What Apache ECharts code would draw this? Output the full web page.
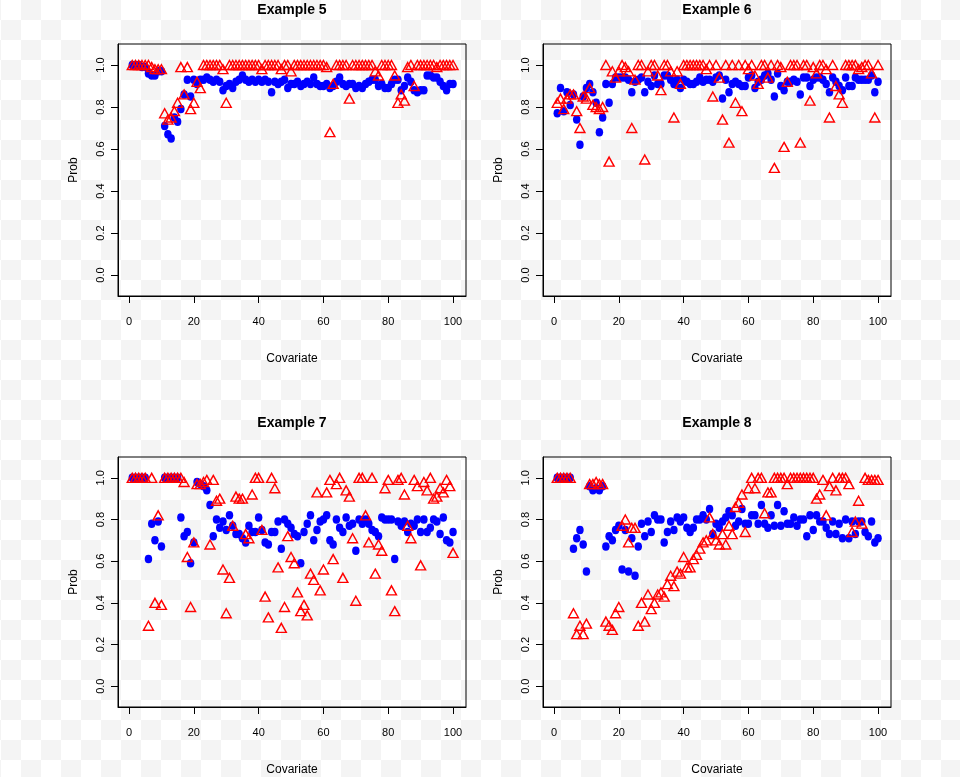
<!DOCTYPE html>
<html><head><meta charset="utf-8">
<script src="https://cdn.jsdelivr.net/npm/echarts@6/dist/echarts.min.js"></script>
<style>
html,body{margin:0;padding:0;width:960px;height:777px;overflow:hidden;}
body{background-color:#fff;background-image:conic-gradient(#f4f4f4 25%, #fff 0 50%, #f4f4f4 0 75%, #fff 0);background-size:40px 40px;background-position:1px 0;}
#c{width:960px;height:777px;}
</style></head><body><div id="c"></div>
<script>
const covariate = [1,2,3,4,5,6,7,8,9,10,11,12,13,14,15,16,17,18,19,20,21,22,23,24,25,26,27,28,29,30,31,32,33,34,35,36,37,38,39,40,41,42,43,44,45,46,47,48,49,50,51,52,53,54,55,56,57,58,59,60,61,62,63,64,65,66,67,68,69,70,71,72,73,74,75,76,77,78,79,80,81,82,83,84,85,86,87,88,89,90,91,92,93,94,95,96,97,98,99,100];
const xTicks = [0,20,40,60,80,100];
const yTicks = [0,0.2,0.4,0.6,0.8,1.0];
const titles = ['Example 5','Example 6','Example 7','Example 8'];

const blue5 = [1.00,1.00,1.00,0.99,0.99,0.96,0.95,0.95,0.97,0.97,
0.71,0.67,0.65,0.75,0.73,0.79,0.86,0.93,0.85,0.93,
0.91,0.93,0.93,0.94,0.93,0.92,0.93,0.92,0.88,0.90,
0.91,0.89,0.92,0.93,0.95,0.93,0.92,0.93,0.92,0.93,
0.92,0.93,0.92,0.87,0.92,0.91,0.92,0.93,0.89,0.91,
0.91,0.92,0.90,0.91,0.92,0.91,0.94,0.91,0.90,0.90,
0.91,0.89,0.90,0.92,0.94,0.91,0.90,0.91,0.91,0.89,
0.90,0.89,0.91,0.92,0.93,0.93,0.90,0.91,0.89,0.89,
0.91,0.93,0.93,0.88,0.90,0.94,0.92,0.88,0.87,0.88,
0.88,0.95,0.95,0.94,0.94,0.92,0.90,0.88,0.91,0.91];
const red5 = [1.00,1.00,1.00,1.00,1.00,1.00,0.99,0.98,0.98,0.98,
0.77,0.74,0.75,0.78,0.82,0.99,0.86,0.99,0.79,0.82,
0.92,0.89,1.00,1.00,1.00,1.00,1.00,1.00,0.98,0.82,
1.00,1.00,1.00,1.00,1.00,1.00,1.00,1.00,1.00,1.00,
0.98,1.00,1.00,1.00,1.00,1.00,0.98,1.00,1.00,0.97,
1.00,1.00,1.00,1.00,1.00,1.00,1.00,1.00,1.00,1.00,
0.99,0.68,0.91,1.00,1.00,1.00,1.00,0.84,1.00,1.00,
1.00,1.00,1.00,1.00,1.00,0.97,0.95,1.00,1.00,1.00,
1.00,0.95,0.82,0.86,0.83,0.99,1.00,0.90,1.00,1.00,
1.00,1.00,1.00,1.00,0.99,1.00,1.00,1.00,1.00,1.00];

const blue6 = [0.77,0.89,0.78,0.87,0.81,0.86,0.74,0.62,0.85,0.89,
0.91,0.87,0.82,0.68,0.75,0.91,0.82,0.91,0.94,0.94,
0.94,0.94,0.93,0.87,0.92,0.93,0.94,0.87,0.92,0.90,
0.95,0.91,0.91,0.95,0.95,0.93,0.91,0.93,0.89,0.93,
0.92,0.91,0.91,0.92,0.94,0.92,0.93,0.93,0.92,0.94,
0.95,0.84,0.93,0.87,0.91,0.92,0.91,0.90,0.90,0.94,
0.95,0.89,0.92,0.93,0.95,0.96,0.93,0.85,0.96,0.90,
0.88,0.92,0.92,0.93,0.92,0.86,0.94,0.94,0.90,0.93,
0.94,0.94,0.93,0.91,0.87,0.94,0.92,0.90,0.88,0.94,
0.90,0.90,0.94,0.93,0.93,0.93,0.93,0.95,0.87,0.92];
const red6 = [0.82,0.84,0.79,0.84,0.86,0.86,0.78,0.70,0.85,0.84,
0.89,0.81,0.80,0.79,0.80,1.00,0.54,0.97,0.94,0.97,
1.00,0.99,0.97,0.70,0.93,1.00,1.00,0.55,0.97,1.00,
1.00,0.95,0.88,1.00,1.00,0.97,0.75,0.97,0.91,1.00,
1.00,1.00,1.00,1.00,1.00,1.00,0.98,1.00,0.85,1.00,
0.94,0.74,1.00,0.63,1.00,0.82,1.00,0.78,1.00,0.98,
1.00,0.95,0.91,1.00,1.00,0.94,1.00,0.51,1.00,0.99,
0.61,0.92,1.00,1.00,1.00,0.63,1.00,1.00,0.83,0.99,
0.96,1.00,1.00,0.98,0.75,1.00,0.90,0.86,0.82,1.00,
1.00,1.00,1.00,0.98,0.99,1.00,1.00,0.96,0.75,1.00];

const blue7 = [1.00,1.00,1.00,1.00,1.00,0.61,0.78,0.70,0.79,0.67,
1.00,1.00,1.00,1.00,1.00,0.81,0.72,0.74,0.59,0.69,
0.98,0.97,0.96,0.94,0.87,0.72,0.80,0.76,0.79,0.75,
0.82,0.77,0.73,0.73,0.71,0.69,0.77,0.74,0.74,0.81,
0.75,0.69,0.68,0.74,0.74,0.79,0.66,0.80,0.78,0.76,
0.73,0.72,0.59,0.74,0.78,0.82,0.70,0.75,0.79,0.80,
0.82,0.70,0.68,0.80,0.76,0.74,0.81,0.77,0.78,0.65,
0.80,0.78,0.80,0.78,0.75,0.74,0.72,0.81,0.80,0.80,
0.80,0.61,0.79,0.77,0.79,0.74,0.78,0.77,0.80,0.74,
0.80,0.74,0.76,0.80,0.79,0.73,0.81,0.70,0.69,0.74];
const red7 = [1.00,1.00,1.00,1.00,1.00,0.29,1.00,0.40,0.82,0.39,
1.00,1.00,1.00,1.00,1.00,1.00,0.98,0.62,0.38,0.69,
0.97,0.97,0.98,0.99,0.68,0.99,0.89,0.90,0.56,0.35,
0.52,0.77,0.91,0.90,0.90,0.73,0.71,0.92,1.00,1.00,
0.75,0.43,0.33,1.00,0.95,0.57,0.28,0.38,0.72,0.62,
0.59,0.45,0.36,0.39,0.34,0.54,0.51,0.93,0.46,0.56,
0.93,0.99,0.61,0.97,1.00,0.52,0.94,0.91,0.71,0.41,
1.00,1.00,0.82,0.69,1.00,0.54,0.68,0.65,0.95,0.99,
0.46,0.36,0.99,1.00,0.92,0.77,0.71,0.99,0.96,0.58,
0.98,0.94,1.00,0.90,0.91,0.95,0.93,0.99,0.96,0.64];

const blue8 = [1.00,1.00,1.00,1.00,1.00,0.66,0.71,0.75,0.68,0.55,
0.96,0.94,0.95,0.94,0.96,0.67,0.72,0.70,0.75,0.77,
0.56,0.75,0.55,0.71,0.53,0.67,0.78,0.72,0.79,0.74,
0.82,0.80,0.80,0.69,0.74,0.79,0.75,0.81,0.79,0.81,
0.76,0.74,0.76,0.80,0.80,0.82,0.80,0.85,0.73,0.78,
0.76,0.79,0.81,0.84,0.82,0.77,0.79,0.85,0.78,0.78,
0.82,0.82,0.78,0.87,0.78,0.76,0.82,0.77,0.87,0.77,
0.84,0.78,0.78,0.81,0.77,0.80,0.80,0.72,0.82,0.75,
0.82,0.79,0.79,0.76,0.73,0.79,0.73,0.78,0.71,0.80,
0.71,0.79,0.73,0.79,0.79,0.74,0.72,0.79,0.69,0.71];
const red8 = [1.00,1.00,1.00,1.00,1.00,0.35,0.25,0.29,0.25,0.30,
0.97,0.97,0.98,0.97,0.97,0.31,0.29,0.27,0.35,0.38,
0.77,0.80,0.69,0.76,0.76,0.29,0.40,0.31,0.44,0.37,
0.40,0.44,0.45,0.43,0.49,0.53,0.48,0.55,0.54,0.62,
0.57,0.57,0.61,0.63,0.66,0.69,0.70,0.81,0.73,0.70,
0.68,0.73,0.68,0.77,0.73,0.86,0.88,0.92,0.74,0.95,
1.00,0.95,1.00,1.00,0.83,0.93,0.93,1.00,1.00,1.00,
1.00,0.97,1.00,1.00,1.00,1.00,1.00,1.00,1.00,1.00,
0.90,0.92,0.99,0.82,0.96,1.00,0.94,1.00,1.00,1.00,
0.97,0.74,0.79,0.89,0.78,1.00,0.99,0.99,0.99,0.99];

const blueSets = [blue5, blue6, blue7, blue8];
const redSets = [red5, red6, red7, red8];

const boxes = [
  {left:118, top:44, width:348, height:252},
  {left:543, top:44, width:348, height:252},
  {left:118, top:457, width:348, height:252},
  {left:543, top:457, width:348, height:252}
];
const FONT = 'Liberation Sans, Arial, sans-serif';

const chart = echarts.init(document.getElementById('c'), null, {renderer:'canvas'});
const grid = [], xAxis = [], yAxis = [], series = [], graphic = [];
boxes.forEach((b, k) => {
  grid.push({left:b.left, top:b.top, width:b.width, height:b.height, show:true,
    borderColor:'#000', borderWidth:1, backgroundColor:'transparent', containLabel:false});
  xAxis.push({type:'value', gridIndex:k, min:-3.4, max:104,
    axisLine:{show:true, onZero:false, lineStyle:{color:'#000', width:1}},
    splitLine:{show:false},
    axisTick:{show:true, length:7, customValues:xTicks, lineStyle:{color:'#000'}},
    axisLabel:{customValues:xTicks, margin:20, fontSize:11, color:'#000', fontFamily:FONT},
    name:'Covariate', nameLocation:'middle', nameGap:57,
    nameTextStyle:{fontSize:12, color:'#000', fontFamily:FONT}});
  yAxis.push({type:'value', gridIndex:k, min:-0.1, max:1.1,
    axisLine:{show:true, onZero:false, lineStyle:{color:'#000', width:1}},
    splitLine:{show:false},
    axisTick:{show:true, length:7, customValues:yTicks, lineStyle:{color:'#000'}},
    axisLabel:{customValues:yTicks, margin:12, rotate:90, fontSize:11, color:'#000', fontFamily:FONT,
      formatter:(v)=>Number(v).toFixed(1)},
    name:'Prob', nameLocation:'middle', nameGap:38,
    nameTextStyle:{fontSize:12, color:'#000', fontFamily:FONT}});
  series.push({type:'scatter', xAxisIndex:k, yAxisIndex:k, symbol:'circle', symbolSize:[7.5,8.5],
    itemStyle:{color:'#0000ff', opacity:1}, silent:true, animation:false, z:2,
    data: covariate.map((x,j)=>[x, blueSets[k][j]])});
  series.push({type:'scatter', xAxisIndex:k, yAxisIndex:k, symbol:'triangle', symbolSize:[10,9],
    itemStyle:{color:'transparent', borderColor:'#ff0000', borderWidth:1.4, opacity:1}, silent:true, animation:false, z:3,
    data: covariate.map((x,j)=>[x, redSets[k][j]])});
  graphic.push({type:'text', x:b.left + b.width/2, y:b.top - 34,
    style:{text:titles[k], fill:'#000', font:'bold 14px ' + FONT, textAlign:'center', textVerticalAlign:'middle'}});
});

chart.setOption({backgroundColor:'transparent', animation:false, grid, xAxis, yAxis, series, graphic});
</script></body></html>
